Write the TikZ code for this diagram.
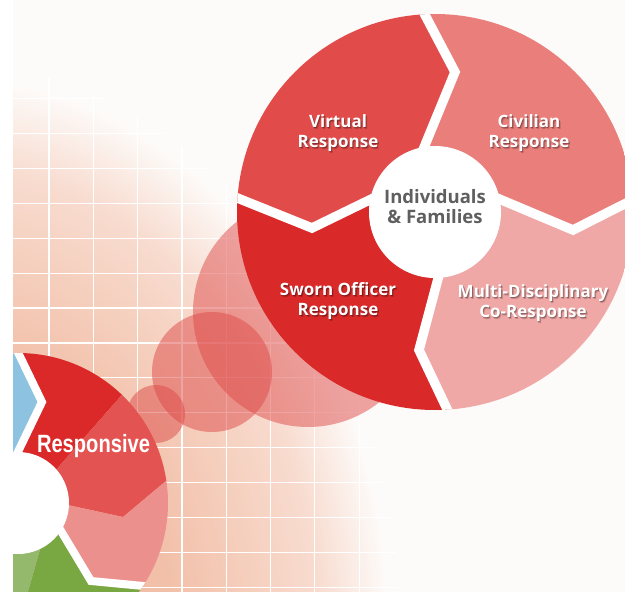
\documentclass[tikz,border=0pt]{standalone}
\usepackage{fontspec}
\usepackage{graphicx}
\setmainfont{Open Sans}
\newfontfamily\respfont{Liberation Sans}
\definecolor{bgc}{HTML}{FDFBF9}
\definecolor{pkA}{HTML}{EFB197}
\definecolor{pkB}{HTML}{F2C0A9}
\definecolor{pkC}{HTML}{F6D3C3}
\definecolor{pkD}{HTML}{F8DCD0}
\definecolor{cV}{HTML}{E14C4A}
\definecolor{cC}{HTML}{E97E7B}
\definecolor{cM}{HTML}{F0A8A6}
\definecolor{cS}{HTML}{DA2929}
\definecolor{bubc}{HTML}{DE4A48}
\definecolor{sBlue}{HTML}{8DC3E0}
\definecolor{sRed}{HTML}{DB2828}
\definecolor{sMed}{HTML}{E35352}
\definecolor{sPink}{HTML}{EC908E}
\definecolor{sGreen}{HTML}{79A843}
\definecolor{sLGreen}{HTML}{94B96C}
\definecolor{midgray}{HTML}{5F5F5F}
\pgfdeclareradialshading{peachfade}{\pgfpoint{0bp}{0bp}}{color(0bp)=(pkA); color(12bp)=(pkB); color(17.5bp)=(pkC); color(20bp)=(pkD); color(23.75bp)=(bgc); color(50bp)=(bgc)}
\newcommand\lblfont{\bfseries\fontsize{17}{20}\selectfont}
\newcommand\shadowlabel[3]{%
  \node[shd, text opacity=0.18, xshift=1.6pt, yshift=-2.2pt] (#1s2) at (#2) {#3};
  \node[shd, text opacity=0.28, xshift=0.8pt, yshift=-1.2pt] (#1s1) at (#2) {#3};
  \node[lbl] (#1) at (#2) {#3};}
\begin{document}
\begin{tikzpicture}[x=1pt,y=-1pt,
  gap/.style={white, line width=9.5pt, line join=miter, miter limit=20},
  sgap/.style={white, line width=8pt, line join=miter, miter limit=20},
  lbl/.style={text=white, font=\lblfont, align=center, anchor=base, inner sep=0pt},
  shd/.style={text=black, font=\lblfont, align=center, anchor=base, inner sep=0pt},
  bubble/.style={fill=bubc, fill opacity=0.5},
  gridline/.style={white, line width=1.2pt}]
\useasboundingbox (0,0) rectangle (625,592);
\fill[white] (0,0) rectangle (625,592);
\begin{scope}
\clip (13,0) rectangle (625,592);
\fill[bgc] (13,0) rectangle (625,592);
\shade[shading=peachfade] (-50,640) ellipse [x radius=463, y radius=592];
\begin{scope}
\clip (-50,640) ellipse [x radius=450, y radius=576];
\foreach \k in {0,...,13} \draw[gridline] ({49+44.3*\k},0) -- ({49+44.3*\k},592);
\foreach \k in {0,...,14} \draw[gridline] (13,{98.6+34.9*\k}) -- (625,{98.6+34.9*\k});
\end{scope}
% bubbles
\fill[bubble] (308,312) circle (115);
\fill[bubble] (212,372) circle (60);
\fill[bubble] (156,414) circle (29);
% big wheel
\begin{scope}
\clip (435,212) circle (198);
\fill[cV] (435,212) -- (390,190) -- (312,228) -- (210,187) -- (150,100) -- (200,-40) -- (410,-40) -- (414.5,-5) -- (455,72) -- (416,167) -- cycle;
\fill[cC] (435,212) -- (416,167) -- (455,72) -- (414.5,-5) -- (414,-40) -- (700,-40) -- (700,180) -- (660,186) -- (573,230) -- (485,193) -- cycle;
\fill[cM] (435,212) -- (485,193) -- (573,230) -- (660,186) -- (700,186) -- (700,500) -- (460,500) -- (457,430) -- (419,350) -- (443,260) -- cycle;
\fill[cS] (435,212) -- (443,260) -- (419,350) -- (457,430) -- (455,500) -- (150,500) -- (150,190) -- (210,187) -- (312,228) -- (390,190) -- cycle;
\draw[gap] (414.5,-5) -- (455,72) -- (416,167);
\draw[gap] (485,193) -- (573,230) -- (660,186);
\draw[gap] (443,260) -- (419,350) -- (457,430);
\draw[gap] (210,187) -- (312,228) -- (390,190);
\end{scope}
\fill[white] (435,212) circle (66);
% small wheel
\begin{scope}
\clip (18,503) circle (150);
\fill[sBlue] (18,503) -- (14,460) -- (42,402) -- (13,342) -- (-200,300) -- (-200,503) -- cycle;
\fill[sRed] (18,503) -- (14,460) -- (42,402) -- (13,342) -- (13,300) -- (150,300) -- (135,380) -- (40,488) -- cycle;
\fill[sMed] (18,503) -- (40,488) -- (135,380) -- (220,380) -- (220,460) -- (185,465) -- (123,517) -- (40,499) -- cycle;
\fill[sPink] (18,503) -- (40,499) -- (123,517) -- (185,465) -- (220,465) -- (220,600) -- (175,589) -- (91,581) -- (55,521) -- cycle;
\fill[sGreen] (18,503) -- (55,521) -- (91,581) -- (175,589) -- (175,620) -- (20,620) -- (44,535) -- cycle;
\fill[sLGreen] (18,503) -- (44,535) -- (20,620) -- (-100,620) -- (-100,503) -- cycle;
\draw[sgap] (13,342) -- (42,402) -- (14,460);
\draw[sgap] (55,521) -- (91,581) -- (175,589);
\end{scope}
\fill[white] (18,503) circle (51);
\end{scope}
% labels
\coordinate (pV) at (338,147);
\coordinate (pC) at (529,147);
\coordinate (pS) at (338,315);
\coordinate (pM) at (533,317);
\shadowlabel{tV}{pV}{Virtual\\Response}
\shadowlabel{tC}{pC}{Civilian\\Response}
\shadowlabel{tS}{pS}{Sworn Officer\\Response}
\shadowlabel{tM}{pM}{Multi-Disciplinary\\Co-Response}
\node[text=midgray, font=\bfseries\fontsize{18.5}{19.5}\selectfont, align=center, anchor=base, inner sep=0pt] (center) at (435,223) {Individuals\\\& Families};
\node[text=white, anchor=base, inner sep=0pt] (resp) at (93.5,452) {\scalebox{0.805}[1]{\respfont\bfseries\fontsize{25}{25}\selectfont Responsive}};
\end{tikzpicture}
\end{document}
